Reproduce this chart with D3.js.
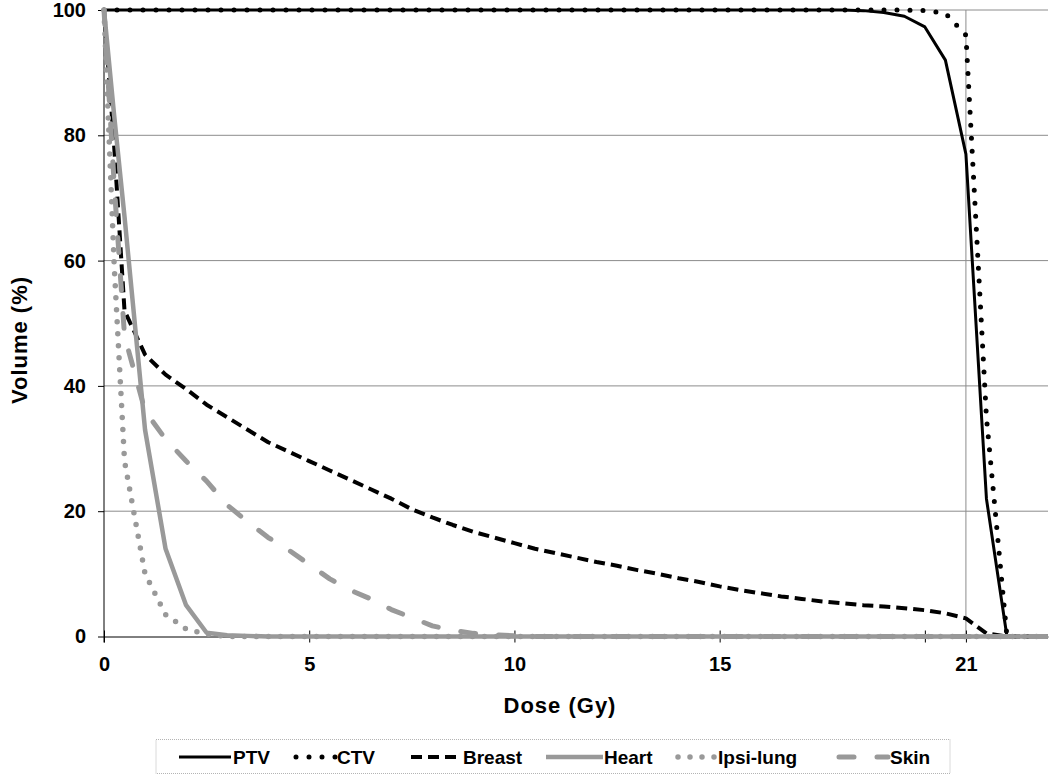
<!DOCTYPE html>
<html>
<head>
<meta charset="utf-8">
<script src="https://cdn.jsdelivr.net/npm/d3@7"></script>
<style>
  body { margin: 0; background: #fff; }
  svg { display: block; font-family: "Liberation Sans", Arial, sans-serif; }
</style>
</head>
<body>
<svg id="chart" width="1050" height="775"></svg>
<script>
// dose grid (Gy)
const doses = [0, 0.25, 0.5, 1, 1.5, 2, 2.5, 3, 3.5, 4, 4.5, 5, 5.5, 6, 6.5, 7, 7.5, 8, 8.5, 9, 9.5, 10,
  10.5, 11, 11.5, 12, 12.5, 13, 13.5, 14, 14.5, 15, 15.5, 16, 16.5, 17, 17.5, 18, 18.5, 19, 19.5, 20,
  20.5, 21, 21.5, 22, 22.5, 23];

// volume (%) for each structure, one value per dose
const ptv = [100, 100, 100, 100, 100, 100, 100, 100, 100, 100, 100, 100, 100, 100, 100, 100, 100, 100,
  100, 100, 100, 100, 100, 100, 100, 100, 100, 100, 100, 100, 100, 100, 100, 100, 100, 100, 100, 100,
  99.9, 99.6, 99, 97.3, 92, 77, 22, 0, 0, 0];
const ctv = [100, 100, 100, 100, 100, 100, 100, 100, 100, 100, 100, 100, 100, 100, 100, 100, 100, 100,
  100, 100, 100, 100, 100, 100, 100, 100, 100, 100, 100, 100, 100, 100, 100, 100, 100, 100, 100, 100,
  100, 100, 100, 99.9, 99.5, 96, 35, 0, 0, 0];
const breast = [100, 78, 52, 45, 41.8, 39.5, 37, 35, 33, 31, 29.5, 28, 26.5, 25, 23.5, 22, 20.3, 19,
  17.8, 16.7, 15.8, 14.9, 14, 13.3, 12.6, 11.9, 11.3, 10.6, 10, 9.3, 8.7, 8, 7.4, 6.9, 6.4, 6, 5.6,
  5.3, 5, 4.8, 4.5, 4.2, 3.7, 2.9, 0.5, 0, 0, 0];
const heart = [100, 83, 67, 33, 14, 5, 0.6, 0.2, 0.1, 0, 0, 0, 0, 0, 0, 0, 0, 0, 0, 0, 0, 0, 0, 0, 0,
  0, 0, 0, 0, 0, 0, 0, 0, 0, 0, 0, 0, 0, 0, 0, 0, 0, 0, 0, 0, 0, 0, 0];
const ipsiLung = [100, 59, 28, 10, 3.5, 1.2, 0.4, 0, 0, 0, 0, 0, 0, 0, 0, 0, 0, 0, 0, 0, 0, 0, 0, 0,
  0, 0, 0, 0, 0, 0, 0, 0, 0, 0, 0, 0, 0, 0, 0, 0, 0, 0, 0, 0, 0, 0, 0, 0];
const skin = [100, 72, 48, 36, 31.5, 28, 24.8, 21, 18.3, 15.8, 13.8, 11.5, 9.2, 7.4, 6, 4.3, 3, 1.7, 1,
  0.5, 0.3, 0.1, 0, 0, 0, 0, 0, 0, 0, 0, 0, 0, 0, 0, 0, 0, 0, 0, 0, 0, 0, 0, 0, 0, 0, 0, 0, 0];

const seriesNames = ['PTV', 'CTV', 'Breast', 'Heart', 'Ipsi-lung', 'Skin'];
const seriesValues = [ptv, ctv, breast, heart, ipsiLung, skin];

const xTicks = [0, 5, 10, 15, 20, 21];
const xTickLabels = ['0', '5', '10', '15', '', '21'];
const yTicks = [0, 20, 40, 60, 80, 100];

// styles per series
const black = '#000', grey = '#999';
const styles = {
  'PTV':       {color: black, width: 3,   dash: null,    cap: 'butt'},
  'CTV':       {color: black, width: 5,   dash: '0 13',  cap: 'round'},
  'Breast':    {color: black, width: 4,   dash: '11 6',  cap: 'butt'},
  'Heart':     {color: grey,  width: 4.5, dash: null,    cap: 'butt'},
  'Ipsi-lung': {color: grey,  width: 5.5, dash: '0 12',  cap: 'round'},
  'Skin':      {color: grey,  width: 5,   dash: '15 23', cap: 'round'}
};

const svg = d3.select('#chart');
const plot = {left: 104, right: 1048, top: 10, bottom: 636.5};

let x = d3.scaleLinear().domain([0, 23]).range([plot.left, plot.right]);
let y = d3.scaleLinear().domain([0, 100]).range([plot.bottom, plot.top]);

// horizontal gridlines
svg.append('g')
  .selectAll('line')
  .data(yTicks.filter(d => d > 0))
  .enter()
  .append('line')
  .attr('x1', plot.left).attr('x2', plot.right)
  .attr('y1', d => y(d)).attr('y2', d => y(d))
  .style('stroke', '#8c8c8c').style('stroke-width', 1);

// vertical line at prescription dose
svg.append('line')
  .attr('x1', x(21)).attr('x2', x(21))
  .attr('y1', plot.top).attr('y2', plot.bottom)
  .style('stroke', '#8c8c8c').style('stroke-width', 1);

// y axis
let yAxis = d3.axisLeft(y).tickValues(yTicks).tickSize(6).tickPadding(12);
let gy = svg.append('g')
  .attr('transform', 'translate(' + plot.left + ',0)')
  .call(yAxis);
gy.select('.domain').attr('d', 'M0,' + plot.top + 'V' + (plot.bottom + 6));
gy.selectAll('text')
  .style('font-size', '20px').style('font-weight', 'bold').style('fill', '#000')
  .style('font-family', '"Liberation Sans", Arial, sans-serif');

// x axis (ticks cross the axis line)
let xAxis = d3.axisBottom(x).tickValues(xTicks)
  .tickFormat((d, i) => xTickLabels[i])
  .tickSizeInner(6).tickSizeOuter(0).tickPadding(14);
let gx = svg.append('g')
  .attr('transform', 'translate(0,' + plot.bottom + ')')
  .call(xAxis);
gx.selectAll('.tick line').attr('y1', -6);
gx.selectAll('text')
  .style('font-size', '20px').style('font-weight', 'bold').style('fill', '#000')
  .style('font-family', '"Liberation Sans", Arial, sans-serif');

// curves
let line = d3.line()
  .x((d, i) => x(doses[i]))
  .y(d => y(d));

seriesNames.forEach(function(name, k){
  let s = styles[name];
  svg.append('path')
    .datum(seriesValues[k])
    .attr('d', line)
    .style('fill', 'none')
    .style('stroke', s.color)
    .style('stroke-width', s.width)
    .style('stroke-dasharray', s.dash)
    .style('stroke-linecap', s.cap)
    .style('stroke-linejoin', 'round');
});

// axis titles
svg.append('text')
  .attr('x', 560).attr('y', 713)
  .attr('text-anchor', 'middle')
  .style('font-size', '22px').style('font-weight', 'bold').style('letter-spacing', '1px')
  .text('Dose (Gy)');

svg.append('text')
  .attr('transform', 'translate(27,340) rotate(-90)')
  .attr('text-anchor', 'middle')
  .style('font-size', '22px').style('font-weight', 'bold').style('letter-spacing', '1px')
  .text('Volume (%)');

// legend
svg.append('rect')
  .attr('x', 156).attr('y', 739.5)
  .attr('width', 794).attr('height', 34)
  .style('fill', 'none').style('stroke', '#b4b4b4').style('stroke-dasharray', '1 1');

const legendPos = [
  {x1: 179, x2: 231, tx: 233},
  {x1: 296, x2: 336, tx: 337},
  {x1: 411, x2: 456, tx: 463},
  {x1: 546, x2: 603, tx: 604},
  {x1: 678, x2: 715, tx: 718},
  {x1: 839, x2: 888, tx: 890}
];

let lg = svg.append('g')
  .selectAll('g')
  .data(seriesNames)
  .enter()
  .append('g');

lg.append('line')
  .attr('x1', (d, i) => legendPos[i].x1)
  .attr('x2', (d, i) => legendPos[i].x2)
  .attr('y1', 757).attr('y2', 757)
  .style('stroke', d => styles[d].color)
  .style('stroke-width', d => styles[d].width)
  .style('stroke-dasharray', d => styles[d].dash)
  .style('stroke-linecap', d => styles[d].cap);

lg.append('text')
  .attr('x', (d, i) => legendPos[i].tx)
  .attr('y', 764)
  .style('font-size', '19px').style('font-weight', 'bold')
  .text(d => d);
</script>
</body>
</html>
